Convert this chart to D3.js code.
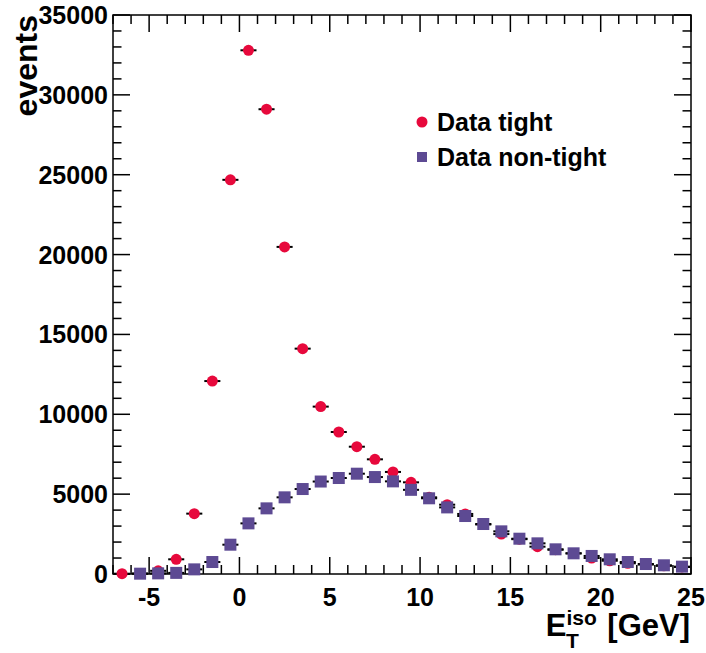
<!DOCTYPE html>
<html>
<head>
<meta charset="utf-8">
<script src="https://cdn.jsdelivr.net/npm/d3@7"></script>
<style>
  body { margin: 0; background: #fff; }
  text { font-family: "Liberation Sans", Arial, Helvetica, sans-serif; font-weight: bold; }
</style>
</head>
<body>
<div id="chart"></div>
<script>
var svgWidth = 706;
var svgHeight = 653;

var margin = { top: 15, right: 15, bottom: 79, left: 113 };
var chartWidth = svgWidth - margin.left - margin.right;
var chartHeight = svgHeight - margin.top - margin.bottom;

// bin centres (1 GeV bins)
var binCentres = [-6.5, -5.5, -4.5, -3.5, -2.5, -1.5, -0.5, 0.5, 1.5, 2.5, 3.5, 4.5, 5.5, 6.5, 7.5, 8.5,
                  9.5, 10.5, 11.5, 12.5, 13.5, 14.5, 15.5, 16.5, 17.5, 18.5, 19.5, 20.5, 21.5, 22.5, 23.5, 24.5];
var tightCounts = [20, 30, 200, 920, 3780, 12080, 24680, 32790, 29100, 20480, 14110, 10480, 8890, 7970, 7180, 6390,
                   5740, 4800, 4340, 3760, 3100, 2500, 2180, 1710, 1520, 1290, 1000, 830, 670, 590, 510, 440];
var nonTightCounts = [0, 20, 40, 70, 290, 750, 1835, 3170, 4110, 4800, 5320, 5790, 6010, 6280, 6070, 5800,
                      5270, 4740, 4170, 3630, 3130, 2670, 2210, 1920, 1545, 1295, 1130, 920, 750, 625, 545, 460];
var xTicks = [-5, 0, 5, 10, 15, 20, 25];
var yTicks = [0, 5000, 10000, 15000, 20000, 25000, 30000, 35000];
var legendNames = ["Data tight", "Data non-tight"];

var red = "#e7093c";
var purple = "#5d4a93";

var svg = d3.select("#chart")
  .append("svg")
  .attr("width", svgWidth)
  .attr("height", svgHeight);

var chartGroup = svg.append("g")
  .attr("transform", `translate(${margin.left}, ${margin.top})`);

var xScale = d3.scaleLinear().domain([-7, 25]).range([0, chartWidth]);
var yScale = d3.scaleLinear().domain([0, 35000]).range([chartHeight, 0]);

// minor ticks every 1 GeV / 1000 events
var xMinor = d3.range(-7, 26, 1).filter(v => xTicks.indexOf(v) < 0);
var yMinor = d3.range(0, 35001, 1000).filter(v => yTicks.indexOf(v) < 0);

var ticks = chartGroup.append("g").attr("stroke", "#000").attr("stroke-width", 1.5);
function tickLines(vals, len, horizontal) {
  vals.forEach(function(v) {
    if (horizontal) {
      var y = yScale(v);
      ticks.append("line").attr("x1", 0).attr("x2", len).attr("y1", y).attr("y2", y);
      ticks.append("line").attr("x1", chartWidth).attr("x2", chartWidth - len).attr("y1", y).attr("y2", y);
    } else {
      var x = xScale(v);
      ticks.append("line").attr("x1", x).attr("x2", x).attr("y1", chartHeight).attr("y2", chartHeight - len);
      ticks.append("line").attr("x1", x).attr("x2", x).attr("y1", 0).attr("y2", len);
    }
  });
}
tickLines(yTicks, 17, true);
tickLines(yMinor, 8.5, true);
tickLines(xTicks, 17, false);
tickLines(xMinor, 9, false);

// tick labels
chartGroup.selectAll(".ylab")
  .data(yTicks)
  .enter()
  .append("text")
  .attr("x", -5)
  .attr("y", d => yScale(d))
  .attr("dy", "0.36em")
  .attr("text-anchor", "end")
  .style("font-size", "25px")
  .text(d => d);

chartGroup.selectAll(".xlab")
  .data(xTicks)
  .enter()
  .append("text")
  .attr("x", d => xScale(d))
  .attr("y", chartHeight + 32)
  .attr("text-anchor", "middle")
  .style("font-size", "25px")
  .text(d => d);

// frame
chartGroup.append("rect")
  .attr("width", chartWidth)
  .attr("height", chartHeight)
  .attr("fill", "none")
  .attr("stroke", "#000")
  .attr("stroke-width", 1.5);

var series = [
  { name: legendNames[0], counts: tightCounts, color: red, shape: "circle" },
  { name: legendNames[1], counts: nonTightCounts, color: purple, shape: "square" }
];

// empty bins are not drawn
function filled(s) {
  return binCentres.map((c, i) => ({ x: c, y: s.counts[i] })).filter(d => d.y > 0);
}

// horizontal error bars (bin width)
series.forEach(function(s) {
  chartGroup.append("g")
    .selectAll("line")
    .data(filled(s))
    .enter()
    .append("line")
    .attr("x1", d => xScale(d.x - 0.5) + 1)
    .attr("x2", d => xScale(d.x + 0.5) - 1)
    .attr("y1", d => yScale(d.y))
    .attr("y2", d => yScale(d.y))
    .attr("stroke", "#000")
    .attr("stroke-width", 2);
});

series.forEach(function(s) {
  var g = chartGroup.append("g");
  if (s.shape === "circle") {
    g.selectAll("circle")
      .data(filled(s))
      .enter()
      .append("circle")
      .attr("cx", d => xScale(d.x))
      .attr("cy", d => yScale(d.y))
      .attr("r", 5.5)
      .attr("fill", s.color);
  } else {
    g.selectAll("rect")
      .data(filled(s))
      .enter()
      .append("rect")
      .attr("x", d => xScale(d.x) - 6)
      .attr("y", d => yScale(d.y) - 6)
      .attr("width", 12)
      .attr("height", 12)
      .attr("fill", s.color);
  }
});

// legend
var legend = svg.append("g").attr("transform", "translate(422, 122)");
legend.append("circle").attr("cx", 0).attr("cy", 0).attr("r", 5.5).attr("fill", red);
legend.append("rect").attr("x", -5).attr("y", 30).attr("width", 10).attr("height", 10).attr("fill", purple);
legend.selectAll("text")
  .data(legendNames)
  .enter()
  .append("text")
  .attr("x", 15)
  .attr("y", (d, i) => i * 35)
  .attr("dy", "0.36em")
  .style("font-size", "25px")
  .text(d => d);

// axis titles
var xTitle = svg.append("text")
  .attr("x", 690)
  .attr("y", 636)
  .attr("text-anchor", "end")
  .style("font-size", "31px");
xTitle.append("tspan").text("E");
xTitle.append("tspan").attr("dy", -11).style("font-size", "21px").text("iso");
xTitle.append("tspan").attr("dx", -31).attr("dy", 23).style("font-size", "21px").text("T");
xTitle.append("tspan").attr("dx", 20).attr("dy", -12).text(" [GeV]");

svg.append("text")
  .attr("transform", "translate(37, 15) rotate(-90)")
  .attr("text-anchor", "end")
  .style("font-size", "32px")
  .text("events");
</script>
</body>
</html>
